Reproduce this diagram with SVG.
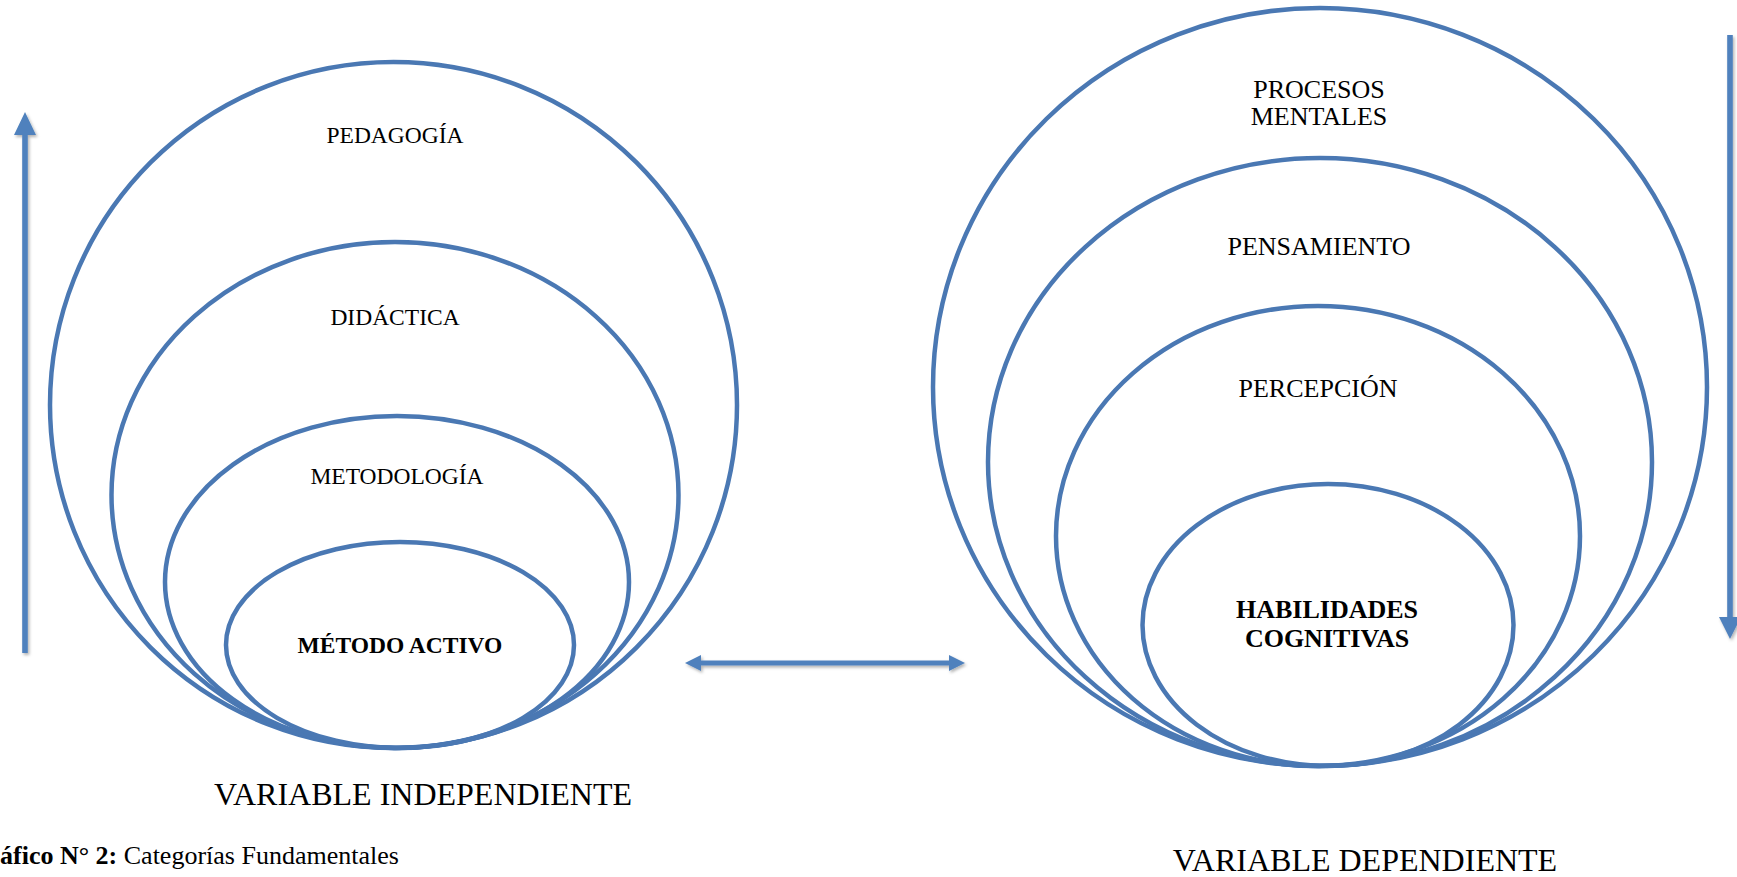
<svg xmlns="http://www.w3.org/2000/svg" width="1737" height="877" viewBox="0 0 1737 877">
<defs>
<filter id="sh" x="-20%" y="-20%" width="140%" height="140%">
<feDropShadow dx="1.5" dy="2" stdDeviation="1.5" flood-color="#000" flood-opacity="0.3"/>
</filter>
<style>
.ring{fill:none;stroke:#4a78b3;stroke-width:4.5}
.arr{fill:#4f81bd;filter:url(#sh)}
.t{font-family:"Liberation Serif","Times New Roman",serif;fill:#000;text-anchor:middle}
.l{font-size:23.5px}
.r{font-size:26px}
.b{font-weight:bold}
</style>
</defs>
<rect width="1737" height="877" fill="#fff"/>
<g id="pedagogia"><ellipse class="ring" cx="393.5" cy="405" rx="343.5" ry="343"/><text class="t l" x="395" y="143">PEDAGOGÍA</text></g>
<g id="didactica"><ellipse class="ring" cx="395" cy="495" rx="283.5" ry="253"/><text class="t l" x="395" y="325">DIDÁCTICA</text></g>
<g id="metodologia"><ellipse class="ring" cx="397" cy="582" rx="232" ry="166"/><text class="t l" x="397" y="484">METODOLOGÍA</text></g>
<g id="metodo-activo"><ellipse class="ring" cx="400" cy="645" rx="174" ry="103"/><text class="t l b" x="400" y="653">MÉTODO ACTIVO</text></g>
<g id="procesos"><ellipse class="ring" cx="1320" cy="387" rx="387" ry="379"/><text class="t r" x="1319" y="98">PROCESOS</text><text class="t r" x="1319" y="125">MENTALES</text></g>
<g id="pensamiento"><ellipse class="ring" cx="1320" cy="462" rx="332" ry="304"/><text class="t r" x="1319" y="255">PENSAMIENTO</text></g>
<g id="percepcion"><ellipse class="ring" cx="1318" cy="536" rx="262" ry="230"/><text class="t r" x="1318" y="397">PERCEPCIÓN</text></g>
<g id="habilidades"><ellipse class="ring" cx="1328" cy="625" rx="185.5" ry="141"/><text class="t r b" x="1327" y="618">HABILIDADES</text><text class="t r b" x="1327" y="647">COGNITIVAS</text></g>
<g id="connectors">
<polygon class="arr" points="25,112 36,135 27.8,135 27.8,653 22.2,653 22.2,135 14,135"/>
<polygon class="arr" points="1727.2,35 1732.8,35 1732.8,617 1741,617 1730,639 1719,617 1727.2,617"/>
<polygon class="arr" points="685,663 701,655 701,660.5 949,660.5 949,655 965,663 949,671 949,665.5 701,665.5 701,671"/>
</g>
<g id="labels">
<text class="t" x="423" y="805" font-size="32">VARIABLE INDEPENDIENTE</text>
<text class="t" x="1365" y="871" font-size="32">VARIABLE DEPENDIENTE</text>
<text x="0" y="864" font-family="Liberation Serif, Times New Roman, serif" font-size="26"><tspan font-weight="bold">áfico N° 2:</tspan> Categorías Fundamentales</text>
</g>
</svg>
